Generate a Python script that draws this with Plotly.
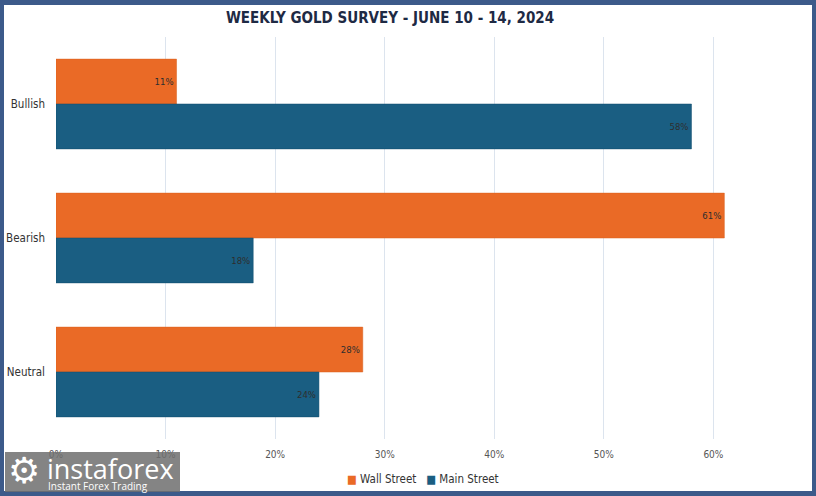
import plotly.graph_objects as go

categories = ["Bullish", "Bearish", "Neutral"]
wall_street = [0.11, 0.61, 0.28]
main_street = [0.58, 0.18, 0.24]
series_names = ["Wall Street", "Main Street"]
series_colors = ["#ea6a26", "#1a5e82"]
tick_vals = [0, 0.1, 0.2, 0.3, 0.4, 0.5, 0.6]
tick_text = ["0%", "10%", "20%", "30%", "40%", "50%", "60%"]
title_text = "WEEKLY GOLD SURVEY - JUNE 10 - 14, 2024"

W, H = 816, 496
ML, MR, MT, MB = 56, 4, 37, 57
BORDER = "#3c5a8a"
NARROW = "Liberation Sans Narrow, DejaVu Sans Condensed, Roboto"

fig = go.Figure()
for name, vals, col, lc in [(series_names[0], wall_street, series_colors[0], "#d9601f"),
                            (series_names[1], main_street, series_colors[1], "#124f6f")]:
    fig.add_trace(go.Bar(
        y=categories, x=vals, name=name, orientation="h",
        marker=dict(color=col, line=dict(color=lc, width=0.5)),
        text=[f"{v*100:.0f}%" for v in vals],
        textposition="inside", insidetextanchor="end", constraintext="none",
        textfont=dict(size=9.5, color="#2e2e2e", family=NARROW),
        showlegend=False,
    ))

def px_x(p):
    return (p - ML) / (W - ML - MR)

def px_y(p):
    return 1 - (p - MT) / (H - MT - MB)

shapes = [
    dict(type="rect", xref="paper", yref="paper",
         x0=px_x(4), x1=px_x(812), y0=px_y(491), y1=px_y(5),
         fillcolor="white", line=dict(width=0), layer="below"),
    dict(type="rect", xref="paper", yref="paper",
         x0=px_x(5), x1=px_x(180), y0=px_y(492), y1=px_y(452),
         fillcolor="rgba(110,110,110,0.85)", line=dict(width=0), layer="above"),
]

legend_text = (f"<span style='color:{series_colors[0]}'>■</span> {series_names[0]}"
               f"&nbsp;&nbsp;&nbsp;<span style='color:{series_colors[1]}'>■</span> {series_names[1]}")

annotations = [
    dict(text=legend_text, xref="paper", yref="paper", x=px_x(423), y=px_y(479),
         xanchor="center", yanchor="middle", showarrow=False,
         font=dict(size=11.5, color="#333333", family=NARROW)),
    dict(text="instaforex", xref="paper", yref="paper", x=px_x(45), y=px_y(468),
         xanchor="left", yanchor="middle", showarrow=False,
         font=dict(size=27, color="white", family="Open Sans")),
    dict(text="Instant Forex Trading", xref="paper", yref="paper", x=px_x(46), y=px_y(486),
         xanchor="left", yanchor="middle", showarrow=False,
         font=dict(size=10, color="white", family="Open Sans")),
    dict(text="⚙", xref="paper", yref="paper", x=px_x(24), y=px_y(470),
         xanchor="center", yanchor="middle", showarrow=False,
         font=dict(size=36, color="white", family="DejaVu Sans")),
]

fig.update_layout(
    width=W, height=H,
    margin=dict(l=ML, r=MR, t=MT, b=MB, autoexpand=False),
    paper_bgcolor=BORDER, plot_bgcolor="white",
    barmode="group", bargap=0.33, bargroupgap=0,
    title=dict(text=f"<b>{title_text}</b>", x=px_x(390), xref="paper", xanchor="center",
               y=1 - 18 / H, yref="container", yanchor="middle",
               font=dict(size=15, color="#1e2a44", family=NARROW)),
    xaxis=dict(range=[0, 0.69], tickvals=tick_vals, ticktext=tick_text,
               showgrid=True, gridcolor="#dce4ee", gridwidth=1, zeroline=False,
               showline=False, ticks="", ticklabelstandoff=8,
               tickfont=dict(size=10, color="#555555", family=NARROW)),
    yaxis=dict(autorange="reversed", showgrid=False, zeroline=False, showline=False,
               ticks="", ticklabelstandoff=10,
               tickfont=dict(size=11.5, color="#333333", family=NARROW)),
    shapes=shapes,
    annotations=annotations,
    showlegend=False,
)

fig.write_html("out.html", config={"displayModeBar": False},
               post_script="document.body.style.margin='0';document.body.style.overflow='hidden';")
